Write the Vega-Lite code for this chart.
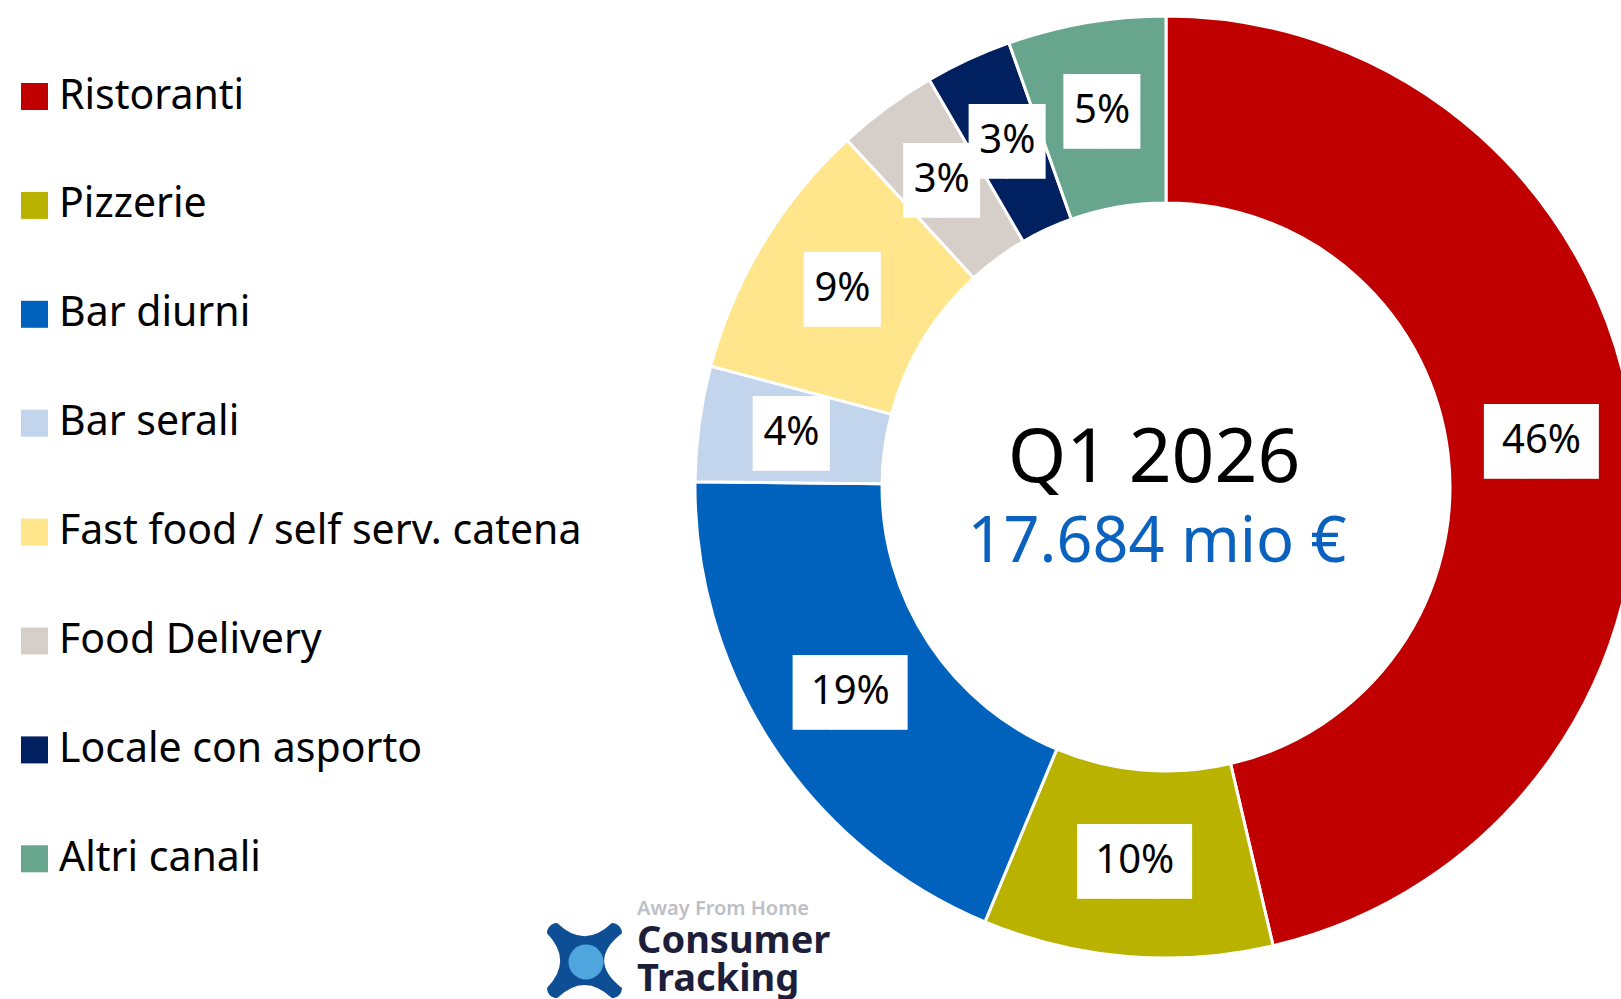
{
  "$schema": "https://vega.github.io/schema/vega-lite/v6.json",
  "autosize": {"type": "none"},
  "padding": {"left": 711, "top": 0, "right": 0, "bottom": 25},
  "width": 910,
  "height": 974,
  "background": "white",
  "config": {"view": {"stroke": null}, "font": "Noto Sans"},
  "title": {
    "text": "Away From Home",
    "subtitle": ["Consumer", "Tracking"],
    "orient": "bottom",
    "anchor": "start",
    "frame": "group",
    "offset": 0,
    "dx": -74,
    "dy": -99,
    "font": "Noto Sans",
    "fontSize": 20,
    "fontWeight": 600,
    "color": "#BEBEC6",
    "subtitleFont": "Noto Sans",
    "subtitleFontSize": 38,
    "subtitleFontWeight": "bold",
    "subtitleColor": "#1D1E3A",
    "subtitleLineHeight": 38,
    "subtitlePadding": 4
  },
  "datasets": {
    "canali": [
      {"idx": 1, "canale": "Ristoranti", "quota": 46.35, "label": "46%"},
      {"idx": 2, "canale": "Pizzerie", "quota": 9.93, "label": "10%"},
      {"idx": 3, "canale": "Bar diurni", "quota": 18.90, "label": "19%"},
      {"idx": 4, "canale": "Bar serali", "quota": 3.95, "label": "4%"},
      {"idx": 5, "canale": "Fast food / self serv. catena", "quota": 9.04, "label": "9%"},
      {"idx": 6, "canale": "Food Delivery", "quota": 3.45, "label": "3%"},
      {"idx": 7, "canale": "Locale con asporto", "quota": 2.97, "label": "3%"},
      {"idx": 8, "canale": "Altri canali", "quota": 5.41, "label": "5%"}
    ],
    "totale": [
      {"periodo": "Q1 2026", "valore": "17.684 mio €"}
    ],
    "logo_anello": [{"parte": "anello"}],
    "logo_centro": [{"nucleo": "centro"}]
  },
  "layer": [
    {
      "data": {"name": "canali"},
      "mark": {"type": "arc", "outerRadius": 471, "innerRadius": 284, "stroke": "white", "strokeWidth": 3},
      "encoding": {
        "theta": {"field": "quota", "type": "quantitative", "stack": true, "scale": {"domain": [0, 100]}},
        "order": {"field": "idx", "type": "quantitative"},
        "color": {
          "field": "canale",
          "type": "nominal",
          "scale": {
            "domain": ["Ristoranti", "Pizzerie", "Bar diurni", "Bar serali", "Fast food / self serv. catena", "Food Delivery", "Locale con asporto", "Altri canali"],
            "range": ["#C00000", "#B9B300", "#0062BD", "#C2D5ED", "#FFE68C", "#D6CFC9", "#00205F", "#68A58E"]
          },
          "legend": {
            "orient": "none",
            "legendX": -697,
            "legendY": 76,
            "title": null,
            "padding": 0,
            "symbolType": "square",
            "symbolSize": 729,
            "symbolStrokeWidth": 0,
            "symbolOpacity": 1,
            "labelFont": "Noto Sans",
            "labelFontSize": 41,
            "labelColor": "#000000",
            "labelOffset": 4,
            "labelLimit": 0,
            "rowPadding": 66.9
          }
        }
      }
    },
    {
      "data": {"name": "canali"},
      "transform": [{"calculate": "pad('', length(datum.label), '█')", "as": "box"}],
      "mark": {"type": "text", "radius": 378, "font": "DejaVu Sans Mono", "fontSize": 63, "baseline": "middle", "align": "center", "color": "white"},
      "encoding": {
        "theta": {"field": "quota", "type": "quantitative", "stack": true, "scale": {"domain": [0, 100]}},
        "order": {"field": "idx", "type": "quantitative"},
        "text": {"field": "box"}
      }
    },
    {
      "data": {"name": "canali"},
      "mark": {"type": "text", "radius": 378, "font": "Noto Sans", "fontSize": 40, "baseline": "middle", "align": "center", "color": "black", "dy": -3},
      "encoding": {
        "theta": {"field": "quota", "type": "quantitative", "stack": true, "scale": {"domain": [0, 100]}},
        "order": {"field": "idx", "type": "quantitative"},
        "text": {"field": "label"}
      }
    },
    {
      "data": {"name": "totale"},
      "mark": {"type": "text", "font": "Noto Sans", "fontSize": 75, "baseline": "alphabetic", "align": "center", "color": "black", "dx": -12, "dy": -5},
      "encoding": {"text": {"field": "periodo"}}
    },
    {
      "data": {"name": "totale"},
      "mark": {"type": "text", "font": "Noto Sans", "fontSize": 63, "baseline": "alphabetic", "align": "center", "color": "#0A62BE", "dx": -9, "dy": 75},
      "encoding": {"text": {"field": "valore"}}
    },
    {
      "data": {"name": "logo_anello"},
      "mark": {"type": "point", "filled": true, "size": 0, "color": "#0D4E94"},
      "encoding": {
        "shape": {
          "field": "parte",
          "type": "nominal",
          "scale": {
            "domain": ["anello"],
            "range": [
              "M-1,-0.73 A0.27,0.27 0 0,1 -0.73,-1 Q0,-0.3 0.73,-1 A0.27,0.27 0 0,1 1,-0.73 Q0.05,0 1,0.73 A0.27,0.27 0 0,1 0.73,1 Q0,0.3 -0.73,1 A0.27,0.27 0 0,1 -1,0.73 Q-0.3,0 -1,-0.73 Z"
            ]
          },
          "legend": {
            "orient": "none",
            "legendX": -164,
            "legendY": 923,
            "title": null,
            "padding": 0,
            "symbolSize": 5625,
            "symbolOpacity": 1,
            "symbolFillColor": "#0D4E94",
            "symbolStrokeWidth": 0,
            "labelExpr": "''",
            "labelFontSize": 1,
            "labelOffset": 0
          }
        }
      }
    },
    {
      "data": {"name": "logo_centro"},
      "mark": {"type": "point", "filled": true, "size": 0, "color": "#4FA6DE"},
      "encoding": {
        "opacity": {
          "field": "nucleo",
          "type": "ordinal",
          "scale": {"domain": ["centro"], "range": [1]},
          "legend": {
            "orient": "none",
            "legendX": -145,
            "legendY": 942,
            "title": null,
            "padding": 0,
            "symbolType": "circle",
            "symbolSize": 1225,
            "symbolOpacity": 1,
            "symbolFillColor": "#4FA6DE",
            "symbolStrokeColor": "white",
            "symbolStrokeWidth": 5,
            "labelExpr": "''",
            "labelFontSize": 1,
            "labelOffset": 0
          }
        }
      }
    }
  ]
}
